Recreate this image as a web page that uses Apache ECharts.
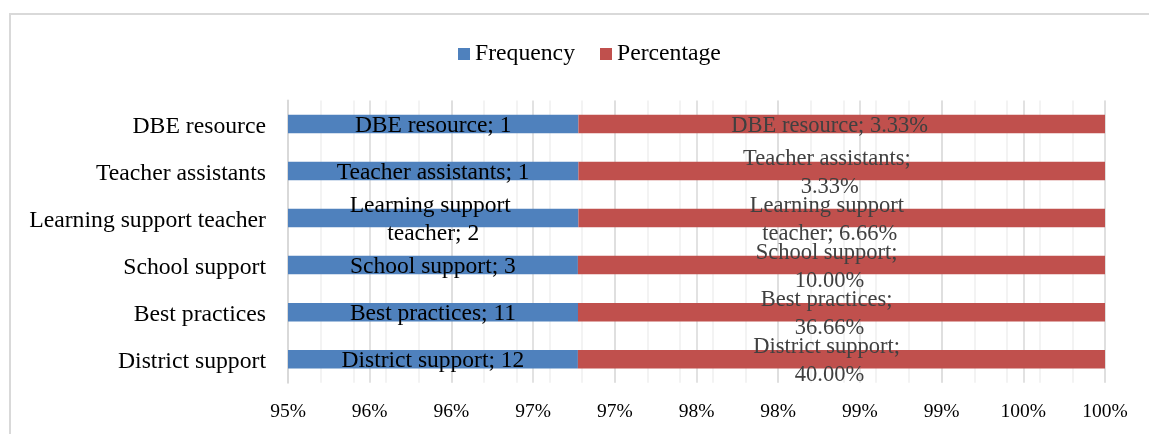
<!DOCTYPE html>
<html>
<head>
<meta charset="utf-8">
<script src="https://cdn.jsdelivr.net/npm/echarts@6/dist/echarts.min.js"></script>
<style>html,body{margin:0;padding:0;background:#fff}#c{width:1149px;height:434px}</style>
</head>
<body>
<div id="c"></div>
<script>
// Data (top to bottom as shown)
var categories = ['DBE resource', 'Teacher assistants', 'Learning support teacher', 'School support', 'Best practices', 'District support'];
var frequency = [1, 1, 2, 3, 11, 12];
var percentage = [3.33, 3.33, 6.66, 10.00, 36.66, 40.00];
var tickLabels = ['95%', '96%', '96%', '97%', '97%', '98%', '98%', '99%', '99%', '100%', '100%'];
var axisMin = 95, axisMax = 100;

// 100% stacked shares (percentage stored as fraction in the source workbook)
var shareF = frequency.map(function (f, i) { return 100 * f / (f + percentage[i] / 100); });
var shareP = percentage.map(function (p, i) { return 100 * (p / 100) / (frequency[i] + p / 100); });
var baseVals = categories.map(function () { return axisMin; });
var blueVals = shareF.map(function (v) { return v - axisMin; });

var FONT = '"Liberation Serif", "Times New Roman", serif';
var chart = echarts.init(document.getElementById('c'));
chart.setOption({
  animation: false,
  backgroundColor: '#fff',
  graphic: [{
    type: 'rect', silent: true, z: -10,
    shape: { x: 10, y: 14, width: 1300, height: 600 },
    style: { fill: 'none', stroke: '#d9d9d9', lineWidth: 2 }
  }],
  legend: {
    data: ['Frequency', 'Percentage'],
    left: 453, top: 37,
    icon: 'rect', itemWidth: 12, itemHeight: 12, itemGap: 25,
    textStyle: { fontFamily: FONT, fontSize: 23.7, color: '#000', padding: [0, 0, 0, 0] },
    selectedMode: false
  },
  grid: { left: 288, right: 44, top: 100.5, bottom: 51.3, containLabel: false },
  xAxis: [{
    type: 'value', min: axisMin, max: axisMax, interval: 0.5, z: 1,
    axisLine: { show: false }, axisTick: { show: false },
    splitLine: { show: true, lineStyle: { color: '#d9d9d9', width: 1.5 } },
    axisLabel: {
      margin: 19, fontFamily: FONT, fontSize: 19.5, color: '#000',
      formatter: function (v, i) { return tickLabels[i]; }
    }
  }, {
    type: 'value', min: axisMin, max: axisMax, interval: 0.2, z: 0,
    position: 'bottom',
    axisLine: { show: false }, axisTick: { show: false }, axisLabel: { show: false },
    splitLine: { show: true, lineStyle: { color: '#efefef', width: 1.5 } }
  }],
  yAxis: {
    type: 'category', data: categories, inverse: true,
    axisLine: { show: true, lineStyle: { color: '#d9d9d9', width: 2 } },
    axisTick: { show: false },
    axisLabel: {
      margin: 22, color: '#000',
      formatter: function (v) { return '{c|' + v + '}'; },
      rich: { c: { fontFamily: FONT, fontSize: 23.7, color: '#000', padding: [6, 0, 0, 0] } }
    }
  },
  series: [{
    name: 'base', type: 'bar', stack: 'a', data: baseVals, silent: true,
    barWidth: 18.5, itemStyle: { color: 'rgba(0,0,0,0)' }, label: { show: false }
  }, {
    name: 'Frequency', type: 'bar', stack: 'a', data: blueVals, barWidth: 18.5,
    itemStyle: { color: '#4F81BD' },
    label: {
      show: true, position: 'inside', offset: [0, 2], fontFamily: FONT, fontSize: 23.5, color: '#000',
      width: 220, overflow: 'break', lineHeight: 28, align: 'center',
      formatter: function (p) { return categories[p.dataIndex] + '; ' + frequency[p.dataIndex]; }
    }
  }, {
    name: 'Percentage', type: 'bar', stack: 'a', data: shareP, barWidth: 18.5,
    itemStyle: { color: '#C0504D' },
    label: {
      show: true, position: 'inside', offset: [-12, 2], fontFamily: FONT, fontSize: 22.5, color: '#404040',
      width: 202, overflow: 'break', lineHeight: 28, align: 'center',
      formatter: function (p) { return categories[p.dataIndex] + '; ' + percentage[p.dataIndex].toFixed(2) + '%'; }
    }
  }]
});
</script>
</body>
</html>
